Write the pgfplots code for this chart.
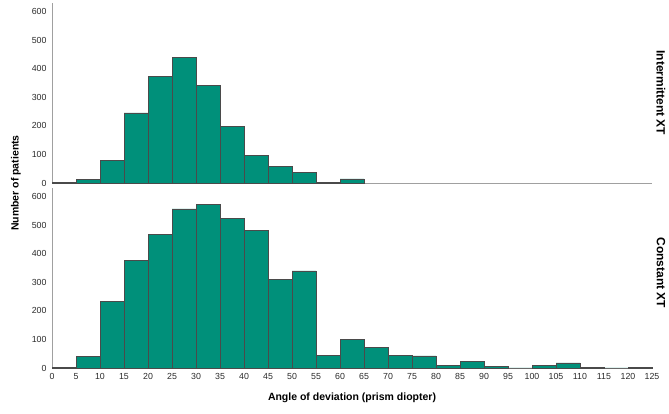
\documentclass[border=0pt]{standalone}
\usepackage{pgfplots}
\pgfplotsset{compat=1.18}
\usepackage{fontspec}
\setmainfont{Liberation Sans}
\definecolor{barfill}{HTML}{00907A}
\definecolor{baredge}{HTML}{4A4A4A}
\definecolor{axgrey}{HTML}{A0A0A0}
\definecolor{ticktext}{HTML}{2A2A2A}
\pgfplotsset{
  panel/.style={
    scale only axis, width=600pt, height=180pt,
    xmin=0, xmax=125, ymin=0, ymax=630,
    axis x line*=bottom, axis y line*=left,
    axis line style={axgrey, line width=0.8pt},
    ytick={0,100,...,600},
    xtick={0,5,...,125},
    major tick length=0pt,
    tick style={draw=none},
    ticklabel style={font=\fontsize{8.8}{10}\selectfont, text=ticktext},
    yticklabel style={xshift=-2pt},
    xticklabel style={yshift=-1.5pt},
    /pgf/number format/assume math mode=true,
    clip=false,
  },
  hist/.style={ybar interval, fill=barfill, draw=baredge, line width=0.6pt},
}
\begin{document}
\begin{tikzpicture}
\useasboundingbox (0pt,0pt) rectangle (669pt,414pt);
% top panel
\begin{axis}[panel, at={(52pt,231pt)}, anchor=origin, xticklabels={}]
\addplot[hist] coordinates {
(0,2) (5,12) (10,80) (15,245) (20,374) (25,440) (30,342) (35,198) (40,96) (45,59) (50,37) (55,1) (60,14) (65,0)};
\end{axis}
% bottom panel
\begin{axis}[panel, at={(52pt,46pt)}, anchor=origin]
\addplot[hist] coordinates {
(0,2) (5,40) (10,233) (15,377) (20,467) (25,557) (30,572) (35,523) (40,482) (45,309) (50,340) (55,43) (60,100) (65,73) (70,43) (75,42) (80,9) (85,23) (90,5) (95,0) (100,10) (105,18) (110,1) (115,0) (120,1) (125,1)};
\end{axis}
\node[rotate=90, font=\bfseries\fontsize{10.5}{12}\selectfont] at (16pt,231pt) {Number of patients};
\node[font=\bfseries\fontsize{10.5}{12}\selectfont] at (352pt,16pt) {Angle of deviation (prism diopter)};
\node[rotate=-90, font=\bfseries\fontsize{12}{14}\selectfont] at (661pt,321pt) {Intermittent XT};
\node[rotate=-90, font=\bfseries\fontsize{12}{14}\selectfont] at (661pt,141pt) {Constant XT};
\end{tikzpicture}
\end{document}
